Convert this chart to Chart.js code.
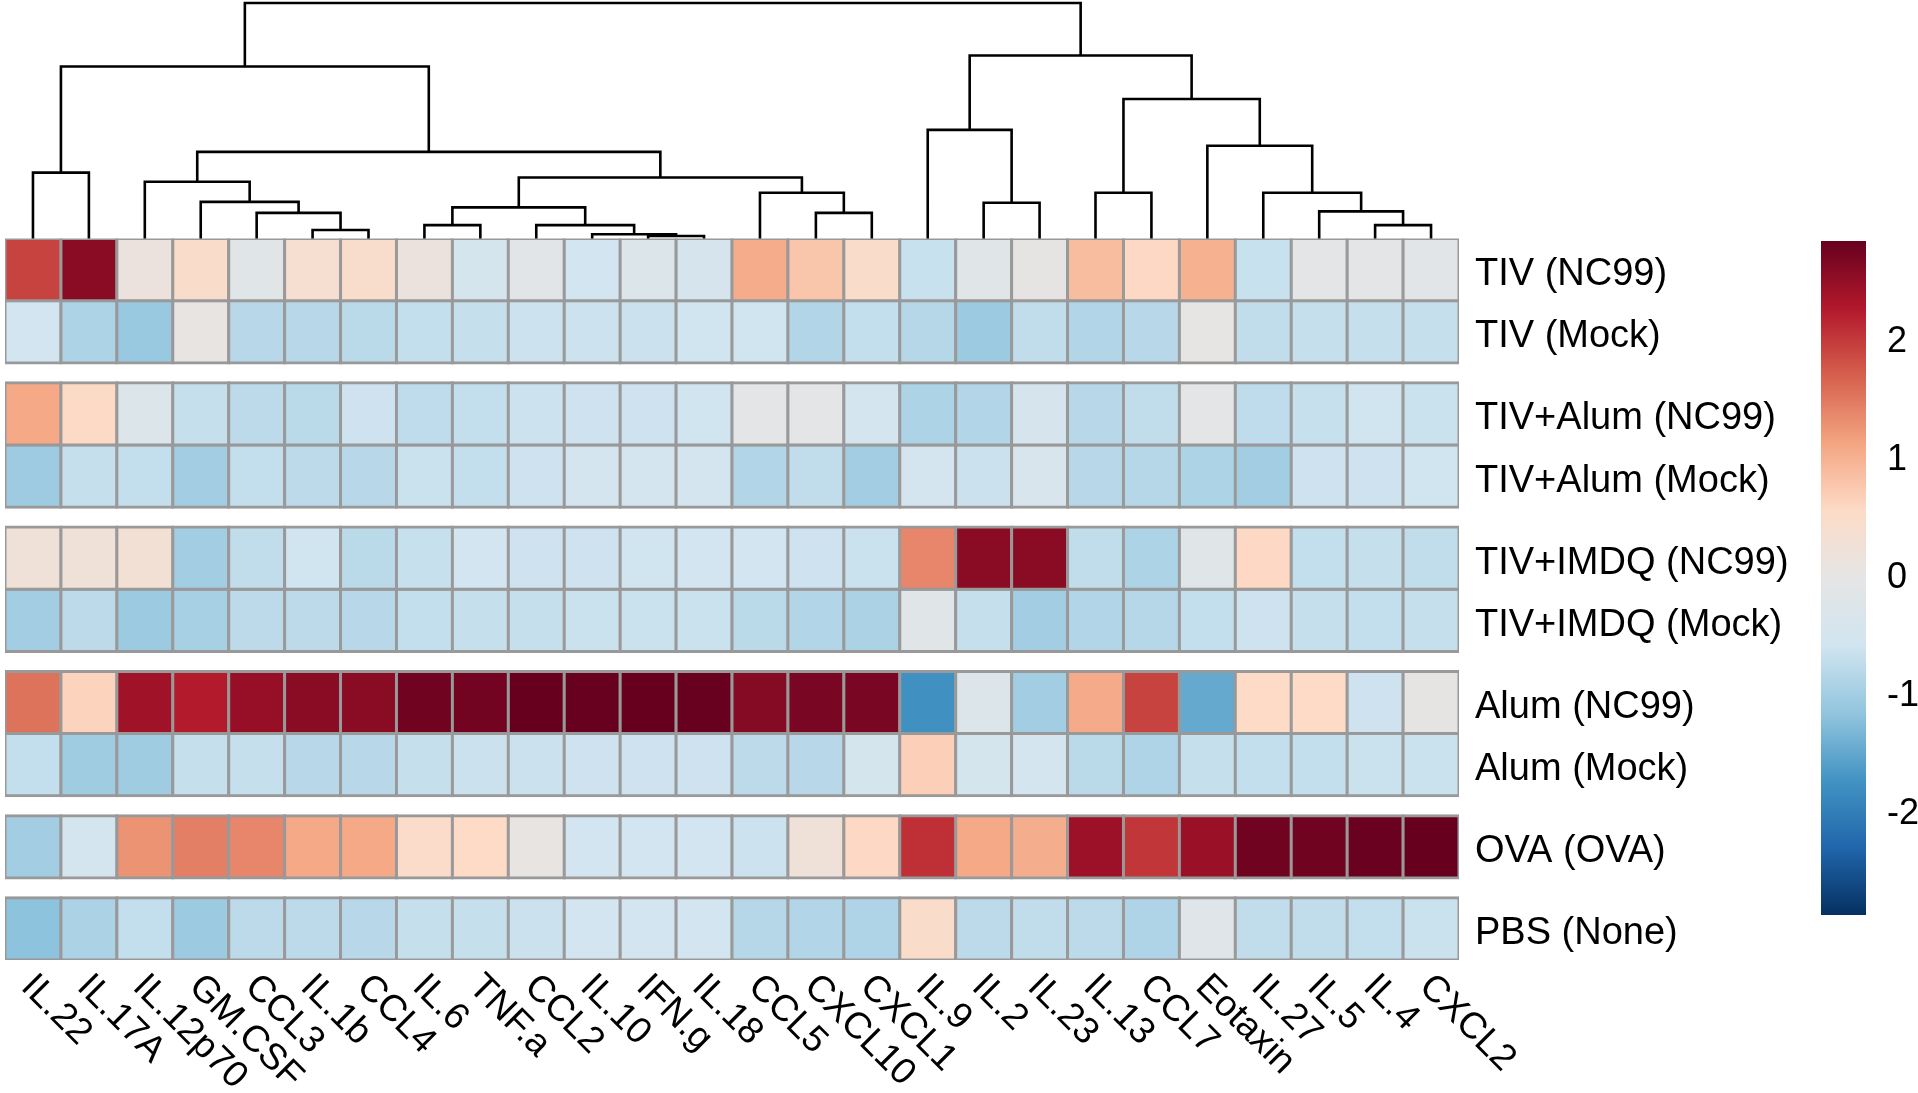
<!DOCTYPE html>
<html>
<head>
<meta charset="utf-8">
<script src="https://cdn.jsdelivr.net/npm/chart.js@4.4.0/dist/chart.umd.min.js"></script>
<style>
  html, body { margin: 0; padding: 0; background: #fff; overflow: hidden; }
  #wrap { position: relative; width: 1918px; height: 1093px; }
  #wrap canvas { position: absolute; left: 0; top: 0; }
</style>
</head>
<body>
<div id="wrap">
  <canvas id="heat" width="1918" height="1093"></canvas>
  <canvas id="tree" width="1918" height="240"></canvas>
  <canvas id="legend" width="1918" height="1093"></canvas>
</div>
<script>
// Colonnes (cytokines) dans l'ordre du dendrogramme
const columnLabels = ['IL.22', 'IL.17A', 'IL.12p70', 'GM.CSF', 'CCL3', 'IL.1b', 'CCL4', 'IL.6', 'TNF.a', 'CCL2',
  'IL.10', 'IFN.g', 'IL.18', 'CCL5', 'CXCL10', 'CXCL1', 'IL.9', 'IL.2', 'IL.23', 'IL.13', 'CCL7', 'Eotaxin',
  'IL.27', 'IL.5', 'IL.4', 'CXCL2'];

// Lignes (groupes)
const rowLabels = ['TIV (NC99)', 'TIV (Mock)', 'TIV+Alum (NC99)', 'TIV+Alum (Mock)', 'TIV+IMDQ (NC99)',
  'TIV+IMDQ (Mock)', 'Alum (NC99)', 'Alum (Mock)', 'OVA (OVA)', 'PBS (None)'];
// nombre de lignes par bloc (les blocs sont séparés par un espace)
const rowGroupSizes = [2, 2, 2, 2, 1, 1];

// Valeurs (z-score), une liste par ligne
const tivNc99 = [1.95, 2.6, 0.15, 0.5, -0.15, 0.4, 0.48, 0.15, -0.45, -0.12, -0.55, -0.28, -0.42, 1.07, 0.8, 0.5, -0.65, -0.15, 0.03, 0.9, 0.6, 1.02, -0.65, -0.05, -0.05, -0.1];
const tivMock = [-0.55, -0.9, -1.08, 0.05, -0.8, -0.8, -0.78, -0.7, -0.68, -0.62, -0.62, -0.63, -0.58, -0.58, -0.85, -0.7, -0.82, -1.05, -0.72, -0.85, -0.8, 0.02, -0.72, -0.68, -0.68, -0.68];
const tivAlumNc99 = [1.1, 0.58, -0.25, -0.68, -0.76, -0.78, -0.6, -0.74, -0.7, -0.62, -0.6, -0.6, -0.58, -0.05, -0.05, -0.5, -0.9, -0.85, -0.42, -0.8, -0.72, -0.05, -0.74, -0.66, -0.58, -0.64];
const tivAlumMock = [-1.03, -0.68, -0.7, -1.0, -0.7, -0.76, -0.8, -0.64, -0.7, -0.6, -0.5, -0.5, -0.5, -0.85, -0.72, -1.0, -0.5, -0.63, -0.35, -0.8, -0.82, -0.9, -1.0, -0.6, -0.6, -0.58];
const tivImdqNc99 = [0.25, 0.25, 0.3, -1.0, -0.72, -0.58, -0.78, -0.66, -0.55, -0.6, -0.6, -0.58, -0.55, -0.55, -0.6, -0.64, 1.4, 2.6, 2.6, -0.72, -0.9, -0.15, 0.6, -0.7, -0.68, -0.72];
const tivImdqMock = [-1.0, -0.76, -1.05, -0.95, -0.76, -0.76, -0.8, -0.7, -0.68, -0.68, -0.64, -0.64, -0.64, -0.78, -0.85, -0.92, -0.15, -0.68, -1.0, -0.85, -0.82, -0.7, -0.6, -0.68, -0.7, -0.68];
const alumNc99 = [1.56, 0.65, 2.43, 2.27, 2.5, 2.6, 2.6, 2.8, 2.77, 2.86, 2.85, 2.86, 2.85, 2.63, 2.72, 2.72, -1.75, -0.28, -1.0, 1.08, 1.95, -1.46, 0.57, 0.57, -0.6, 0.03];
const alumMock = [-0.7, -1.02, -1.02, -0.68, -0.68, -0.8, -0.8, -0.68, -0.63, -0.63, -0.6, -0.6, -0.6, -0.76, -0.8, -0.45, 0.7, -0.48, -0.5, -0.78, -0.87, -0.68, -0.7, -0.7, -0.64, -0.64];
const ovaOva = [-1.0, -0.5, 1.29, 1.46, 1.4, 1.1, 1.1, 0.52, 0.57, 0.06, -0.55, -0.55, -0.55, -0.62, 0.25, 0.6, 2.1, 1.1, 1.05, 2.45, 2.05, 2.48, 2.8, 2.8, 2.83, 2.86];
const pbsNone = [-1.17, -0.92, -0.7, -1.05, -0.76, -0.76, -0.8, -0.68, -0.68, -0.63, -0.55, -0.55, -0.55, -0.82, -0.85, -0.87, 0.5, -0.76, -0.72, -0.76, -0.87, -0.18, -0.72, -0.72, -0.7, -0.64];

const rowSeries = [tivNc99, tivMock, tivAlumNc99, tivAlumMock, tivImdqNc99, tivImdqMock, alumNc99, alumMock, ovaOva, pbsNone];

// Dendrogramme des colonnes, façon hclust : négatif = feuille (colonne, base 1), positif = fusion précédente
const mergeLeft   = [-12, -11, -6, -8, -25, -10, -5, -15, -24, 4, -18, -4, -14, -20, -23, -3, 10, -1, 16, -22, -17, 14, 18, 21, 23];
const mergeRight  = [-13, 1, -7, -9, -26, 2, 3, -16, 5, 6, -19, 7, 8, -21, 9, 12, 13, -2, 17, 15, 11, 20, 19, 22, 24];
const mergeHeight = [0.2, 0.35, 0.7, 1.1, 1.1, 1.1, 2.1, 2.1, 2.22, 2.55, 2.93, 3.0, 3.75, 3.75, 3.75, 4.65, 5.0, 5.4, 7.1, 7.6, 8.9, 11.43, 14.1, 15.0, 19.3];

// Légende (échelle de couleurs)
const scaleMin = -2.86;
const scaleMax = 2.86;
const legendTicks = [-2, -1, 0, 1, 2];
const rampValues = [-2.86, -2.288, -1.716, -1.144, -0.572, 0, 0.572, 1.144, 1.716, 2.288, 2.86];
const rampColors = ['#053061', '#2166AC', '#4393C3', '#92C5DE', '#D1E5F0', '#E5E5E5', '#FDDBC7', '#F4A582', '#D6604D', '#B2182B', '#67001F'];

Chart.defaults.font.family = '"Liberation Sans", Arial, Helvetica, sans-serif';
Chart.defaults.color = '#000';

const groupGap = 0.32;
const labelShift = 0.08; // petit décalage vers le bas des noms de lignes

function hexToRgb(h) {
  return [parseInt(h.slice(1, 3), 16), parseInt(h.slice(3, 5), 16), parseInt(h.slice(5, 7), 16)];
}

function colorFor(v) {
  v = Math.max(rampValues[0], Math.min(rampValues[rampValues.length - 1], v));
  for (let i = 0; i < rampValues.length - 1; i++) {
    if (v <= rampValues[i + 1]) {
      const t = (v - rampValues[i]) / (rampValues[i + 1] - rampValues[i]);
      const a = hexToRgb(rampColors[i]), b = hexToRgb(rampColors[i + 1]);
      const c = a.map((x, k) => Math.round(x + (b[k] - x) * t));
      return 'rgb(' + c.join(',') + ')';
    }
  }
  return rampColors[rampColors.length - 1];
}

// position verticale de chaque ligne (en unités de ligne)
const rowTops = [];
let pos = 0;
rowGroupSizes.forEach(n => {
  for (let i = 0; i < n; i++) { rowTops.push(pos); pos += 1; }
  pos += groupGap;
});
const totalRows = pos - groupGap;
const rowCenters = rowTops.map(t => t + 0.5 + labelShift);

// Étiquettes des colonnes, tournées à 45°
const columnLabelPlugin = {
  id: 'columnLabels',
  afterDraw(chart) {
    const { ctx, chartArea, scales: { x } } = chart;
    ctx.save();
    ctx.font = '37px "Liberation Sans", Arial, Helvetica, sans-serif';
    ctx.fillStyle = '#000';
    ctx.textAlign = 'left';
    ctx.textBaseline = 'middle';
    columnLabels.forEach((label, i) => {
      ctx.save();
      ctx.translate(x.getPixelForValue(i) - 6, chartArea.bottom + 21);
      ctx.rotate(Math.PI / 4);
      ctx.fillText(label, 0, 0);
      ctx.restore();
    });
    ctx.restore();
  }
};

// Heatmap
new Chart(document.getElementById('heat'), {
  type: 'bar',
  data: {
    labels: columnLabels,
    datasets: rowSeries.map((vals, r) => ({
      label: rowLabels[r],
      data: vals.map(() => [rowTops[r], rowTops[r] + 1]),
      backgroundColor: vals.map(colorFor),
      borderColor: '#999999',
      borderWidth: 3,
      inflateAmount: 1.5,
      borderSkipped: false,
      grouped: false,
      barPercentage: 1,
      categoryPercentage: 1
    }))
  },
  options: {
    responsive: false,
    animation: false,
    devicePixelRatio: 1,
    events: [],
    layout: { padding: { left: 5, top: 238.5, bottom: 133, right: 0 } },
    plugins: { legend: { display: false }, tooltip: { enabled: false } },
    scales: {
      x: { display: false, offset: true },
      y: {
        type: 'linear',
        position: 'right',
        reverse: true,
        min: 0,
        max: totalRows,
        grid: { display: false },
        border: { display: false },
        afterBuildTicks: axis => { axis.ticks = rowCenters.map(v => ({ value: v })); },
        afterFit: axis => { axis.width = 459; },
        ticks: {
          autoSkip: false,
          padding: 8,
          color: '#000',
          font: { size: 38 },
          callback: (v, i) => rowLabels[i]
        }
      }
    }
  },
  plugins: [columnLabelPlugin]
});

// Dendrogramme
const nodeX = [];
const nodeH = [];
function nodePos(ref) {
  return ref < 0 ? { x: -ref - 1, h: 0 } : { x: nodeX[ref - 1], h: nodeH[ref - 1] };
}
const treeDatasets = [];
mergeLeft.forEach((l, k) => {
  const a = nodePos(l);
  const b = nodePos(mergeRight[k]);
  const h = mergeHeight[k];
  nodeX[k] = (a.x + b.x) / 2;
  nodeH[k] = h;
  treeDatasets.push({
    data: [{ x: a.x, y: a.h }, { x: a.x, y: h }, { x: b.x, y: h }, { x: b.x, y: b.h }],
    showLine: true,
    borderColor: '#000',
    borderWidth: 2.6,
    borderJoinStyle: 'miter',
    pointRadius: 0,
    tension: 0,
    clip: false
  });
});

new Chart(document.getElementById('tree'), {
  type: 'scatter',
  data: { datasets: treeDatasets },
  options: {
    responsive: false,
    animation: false,
    devicePixelRatio: 1,
    events: [],
    layout: { padding: { left: 5, right: 459, top: 3, bottom: 1.5 } },
    plugins: { legend: { display: false }, tooltip: { enabled: false } },
    scales: {
      x: { type: 'linear', display: false, min: -0.5, max: columnLabels.length - 0.5 },
      y: { type: 'linear', display: false, min: 0, max: mergeHeight[mergeHeight.length - 1] }
    }
  }
});

// Barre de couleurs
function legendGradient(chart) {
  const y = chart.scales.y;
  if (!y || !chart.chartArea) return rampColors[5];
  const top = y.getPixelForValue(scaleMax);
  const bottom = y.getPixelForValue(scaleMin);
  const g = chart.ctx.createLinearGradient(0, bottom, 0, top);
  rampValues.forEach((v, i) => g.addColorStop((v - scaleMin) / (scaleMax - scaleMin), rampColors[i]));
  return g;
}

new Chart(document.getElementById('legend'), {
  type: 'bar',
  data: {
    labels: [''],
    datasets: [{
      data: [[scaleMin, scaleMax]],
      backgroundColor: c => legendGradient(c.chart),
      borderWidth: 0,
      inflateAmount: 0,
      barPercentage: 1,
      categoryPercentage: 1
    }]
  },
  options: {
    responsive: false,
    animation: false,
    devicePixelRatio: 1,
    events: [],
    layout: { padding: { left: 1821, top: 241, bottom: 178, right: 0 } },
    plugins: { legend: { display: false }, tooltip: { enabled: false } },
    scales: {
      x: { display: false },
      y: {
        type: 'linear',
        position: 'right',
        min: scaleMin,
        max: scaleMax,
        grid: { display: false },
        border: { display: false },
        afterBuildTicks: axis => { axis.ticks = legendTicks.map(v => ({ value: v })); },
        afterFit: axis => { axis.width = 52; },
        ticks: { padding: 13, color: '#000', font: { size: 36 }, callback: v => String(v) }
      }
    }
  }
});
</script>
</body>
</html>
